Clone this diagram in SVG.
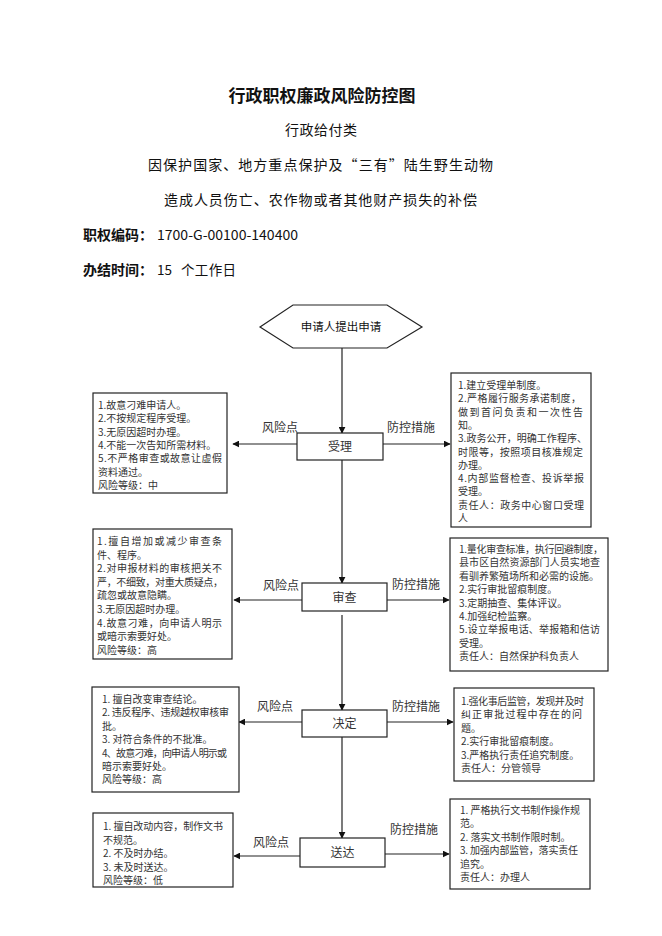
<svg xmlns="http://www.w3.org/2000/svg" width="662" height="936" viewBox="0 0 662 936">
<style>
text{font-family:"Noto Sans CJK SC","Noto Sans",sans-serif;fill:#111}
.t{font-size:10px;fill:#333}
.lbl{font-size:12px;fill:#333}
.pn{font-size:12px;fill:#333}
.box{fill:#fff;stroke:#222;stroke-width:1.2}
.proc{fill:#fff;stroke:#222;stroke-width:1.2}
.ln{stroke:#222;stroke-width:1.2;fill:none}
</style>
<defs>
<marker id="ah" viewBox="0 0 10 10" refX="9" refY="5" markerWidth="7" markerHeight="7" markerUnits="userSpaceOnUse" orient="auto">
<path d="M0,0 L10,5 L0,10 z" fill="#111"/>
</marker>
</defs>
<rect width="662" height="936" fill="#fff"/>

<g id="header">
<text x="322" y="102" font-size="17" font-weight="bold" text-anchor="middle">行政职权廉政风险防控图</text>
<text x="321" y="135" font-size="14" text-anchor="middle" textLength="72" lengthAdjust="spacing">行政给付类</text>
<text x="320.5" y="170" font-size="14" text-anchor="middle" textLength="345" lengthAdjust="spacing">因保护国家、地方重点保护及“三有”陆生野生动物</text>
<text x="320.5" y="205" font-size="14" text-anchor="middle" textLength="313" lengthAdjust="spacing">造成人员伤亡、农作物或者其他财产损失的补偿</text>
<text x="83" y="240" font-size="14" font-weight="bold">职权编码：</text>
<text x="157" y="240" font-size="13.5" font-family="Liberation Sans, sans-serif" textLength="141" lengthAdjust="spacingAndGlyphs">1700-G-00100-140400</text>
<text x="83" y="275" font-size="14" font-weight="bold">办结时间：</text>
<text x="157" y="275" font-size="13.5" font-family="Liberation Sans, sans-serif">15</text>
<text x="181" y="275" font-size="13.5" textLength="55" lengthAdjust="spacing">个工作日</text>
</g>

<g id="connectors">
<line class="ln" x1="342" y1="348" x2="342" y2="433" marker-end="url(#ah)"/>
<line class="ln" x1="342" y1="460" x2="342" y2="583" marker-end="url(#ah)"/>
<line class="ln" x1="342" y1="615" x2="342" y2="710" marker-end="url(#ah)"/>
<line class="ln" x1="342" y1="737" x2="342" y2="838" marker-end="url(#ah)"/>
<line class="ln" x1="297" y1="444" x2="233" y2="444" marker-end="url(#ah)"/>
<line class="ln" x1="383" y1="444" x2="450" y2="444" marker-end="url(#ah)"/>
<line class="ln" x1="302" y1="600" x2="234" y2="600" marker-end="url(#ah)"/>
<line class="ln" x1="387" y1="600" x2="449" y2="600" marker-end="url(#ah)"/>
<line class="ln" x1="302" y1="722" x2="239" y2="722" marker-end="url(#ah)"/>
<line class="ln" x1="387" y1="722" x2="453" y2="722" marker-end="url(#ah)"/>
<line class="ln" x1="300" y1="856" x2="234" y2="856" marker-end="url(#ah)"/>
<line class="ln" x1="385" y1="854" x2="449" y2="854" marker-end="url(#ah)"/>
<text class="lbl" x="262" y="432">风险点</text>
<text class="lbl" x="387" y="432">防控措施</text>
<text class="lbl" x="263" y="590">风险点</text>
<text class="lbl" x="392" y="589">防控措施</text>
<text class="lbl" x="257" y="711">风险点</text>
<text class="lbl" x="392" y="711">防控措施</text>
<text class="lbl" x="253" y="847">风险点</text>
<text class="lbl" x="390" y="834">防控措施</text>
</g>

<g id="start">
<polygon class="proc" points="260,327 293,305 387,305 422,327 387,348 293,348"/>
<text x="341" y="331" font-size="11.5" fill="#333" text-anchor="middle">申请人提出申请</text>
</g>

<g id="shouli">
<rect class="proc" x="297" y="433" width="86" height="27"/>
<text class="pn" x="340" y="451" text-anchor="middle">受理</text>
</g>
<g id="shencha">
<rect class="proc" x="302" y="583" width="85" height="28"/>
<text class="pn" x="344.5" y="601.5" text-anchor="middle">审查</text>
</g>
<g id="jueding">
<rect class="proc" x="302" y="710" width="85" height="27"/>
<text class="pn" x="344.5" y="728" text-anchor="middle">决定</text>
</g>
<g id="songda">
<rect class="proc" x="300" y="838" width="85" height="29"/>
<text class="pn" x="342.5" y="857" text-anchor="middle">送达</text>
</g>

<g id="risk1">
<rect class="box" x="93" y="393" width="134" height="100"/>
<text class="t" x="98" y="409">1.故意刁难申请人。</text>
<text class="t" x="98" y="422.3">2.不按规定程序受理。</text>
<text class="t" x="98" y="435.6">3.无原因超时办理。</text>
<text class="t" x="98" y="449">4.不能一次告知所需材料。</text>
<text class="t" x="98" y="462.2" textLength="124" lengthAdjust="spacing">5.不严格审查或故意让虚假</text>
<text class="t" x="98" y="475.5">资料通过。</text>
<text class="t" x="98" y="488.8">风险等级：中</text>
</g>

<g id="ctrl1">
<rect class="box" x="451" y="373" width="140" height="154"/>
<text class="t" x="458" y="389">1.建立受理单制度。</text>
<text class="t" x="458" y="402.3" textLength="123" lengthAdjust="spacing">2.严格履行服务承诺制度，</text>
<text class="t" x="458" y="415.6" textLength="125" lengthAdjust="spacing">做到首问负责和一次性告</text>
<text class="t" x="458" y="428.9">知。</text>
<text class="t" x="458" y="442.2" textLength="129" lengthAdjust="spacing">3.政务公开，明确工作程序、</text>
<text class="t" x="458" y="455.5" textLength="125" lengthAdjust="spacing">时限等，按照项目核准规定</text>
<text class="t" x="458" y="468.8">办理。</text>
<text class="t" x="458" y="482.1" textLength="126" lengthAdjust="spacing">4.内部监督检查、投诉举报</text>
<text class="t" x="458" y="495.4">受理。</text>
<text class="t" x="458" y="508.7" textLength="126" lengthAdjust="spacing">责任人：政务中心窗口受理</text>
<text class="t" x="458" y="522">人</text>
</g>

<g id="risk2">
<rect class="box" x="93" y="529" width="139" height="130"/>
<text class="t" x="97" y="545" textLength="125" lengthAdjust="spacing">1.擅自增加或减少审查条</text>
<text class="t" x="97" y="558.6">件、程序。</text>
<text class="t" x="97" y="572.2" textLength="125" lengthAdjust="spacing">2.对申报材料的审核把关不</text>
<text class="t" x="97" y="585.8" textLength="126" lengthAdjust="spacing">严，不细致，对重大质疑点，</text>
<text class="t" x="97" y="599.4">疏忽或故意隐瞒。</text>
<text class="t" x="97" y="613">3.无原因超时办理。</text>
<text class="t" x="97" y="626.6" textLength="125" lengthAdjust="spacing">4.故意刁难，向申请人明示</text>
<text class="t" x="97" y="640.2">或暗示索要好处。</text>
<text class="t" x="97" y="653.8">风险等级：高</text>
</g>

<g id="ctrl2">
<rect class="box" x="450" y="538" width="158" height="133"/>
<text class="t" x="459" y="553" textLength="144" lengthAdjust="spacing">1.量化审查标准，执行回避制度，</text>
<text class="t" x="459" y="566.4" textLength="141" lengthAdjust="spacing">县市区自然资源部门人员实地查</text>
<text class="t" x="459" y="579.8" textLength="140" lengthAdjust="spacing">看驯养繁殖场所和必需的设施。</text>
<text class="t" x="459" y="593.2">2.实行审批留痕制度。</text>
<text class="t" x="459" y="606.6">3.定期抽查、集体评议。</text>
<text class="t" x="459" y="620">4.加强纪检监察。</text>
<text class="t" x="459" y="633.4" textLength="141" lengthAdjust="spacing">5.设立举报电话、举报箱和信访</text>
<text class="t" x="459" y="646.8">受理。</text>
<text class="t" x="459" y="660.2">责任人：自然保护科负责人</text>
</g>

<g id="risk3">
<rect class="box" x="92" y="687" width="147" height="105"/>
<text class="t" x="102" y="703">1. 擅自改变审查结论。</text>
<text class="t" x="102" y="716.4" textLength="127" lengthAdjust="spacing">2. 违反程序、违规越权审核审</text>
<text class="t" x="102" y="729.8">批。</text>
<text class="t" x="102" y="743.2">3. 对符合条件的不批准。</text>
<text class="t" x="102" y="756.6" textLength="125" lengthAdjust="spacing">4、故意刁难，向申请人明示或</text>
<text class="t" x="102" y="770">暗示索要好处。</text>
<text class="t" x="102" y="783.4">风险等级：高</text>
</g>

<g id="ctrl3">
<rect class="box" x="454" y="688" width="140" height="93"/>
<text class="t" x="461" y="705" textLength="123" lengthAdjust="spacing">1.强化事后监管，发现并及时</text>
<text class="t" x="461" y="718.4" textLength="121" lengthAdjust="spacing">纠正审批过程中存在的问</text>
<text class="t" x="461" y="731.8">题。</text>
<text class="t" x="461" y="745.2">2.实行审批留痕制度。</text>
<text class="t" x="461" y="758.6">3.严格执行责任追究制度。</text>
<text class="t" x="461" y="772">责任人：分管领导</text>
</g>

<g id="risk4">
<rect class="box" x="93" y="813" width="140" height="74"/>
<text class="t" x="103" y="830" textLength="120" lengthAdjust="spacing">1. 擅自改动内容，制作文书</text>
<text class="t" x="103" y="843.5">不规范。</text>
<text class="t" x="103" y="857">2. 不及时办结。</text>
<text class="t" x="103" y="870.5">3. 未及时送达。</text>
<text class="t" x="103" y="884">风险等级：低</text>
</g>

<g id="ctrl4">
<rect class="box" x="450" y="799" width="140" height="90"/>
<text class="t" x="460" y="814" textLength="120" lengthAdjust="spacing">1. 严格执行文书制作操作规</text>
<text class="t" x="460" y="827.4">范。</text>
<text class="t" x="460" y="840.8">2. 落实文书制作限时制。</text>
<text class="t" x="460" y="854.2" textLength="118" lengthAdjust="spacing">3. 加强内部监管，落实责任</text>
<text class="t" x="460" y="867.6">追究。</text>
<text class="t" x="460" y="881">责任人：办理人</text>
</g>
</svg>
